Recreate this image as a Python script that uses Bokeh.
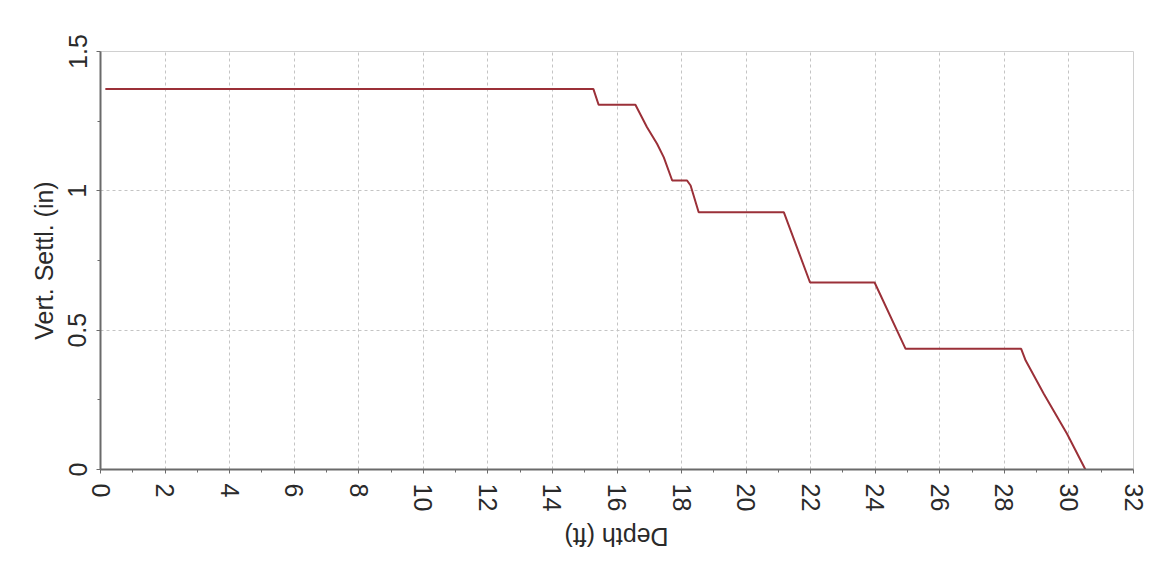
import math
from bokeh.plotting import figure
from bokeh.models import FixedTicker, Range1d, Label
from bokeh.embed import file_html
from bokeh.resources import INLINE

# Data
depth_ft = [0.15, 15.27, 15.43, 16.57, 16.93, 17.24, 17.45, 17.71, 18.17, 18.28,
            18.53, 21.17, 21.98, 23.98, 24.94, 28.52, 28.66, 29.22, 29.94, 30.51]
vert_settl_in = [1.365, 1.365, 1.309, 1.309, 1.228, 1.169, 1.120, 1.037, 1.037, 1.019,
                 0.923, 0.923, 0.671, 0.671, 0.433, 0.433, 0.391, 0.272, 0.128, 0.0]

x_ticks = list(range(0, 33, 2))
x_minor = list(range(1, 32, 2))
y_ticks = [0, 0.5, 1, 1.5]
y_minor = [0.25, 0.75, 1.25]
y_tick_labels = {0: "0", 0.5: "0.5", 1: "1", 1.5: "1.5"}

FONT = "Liberation Sans"

p = figure(width=1154, height=565, output_backend="svg", toolbar_location=None,
           x_range=Range1d(0, 32), y_range=Range1d(0, 1.5),
           min_border_left=100, min_border_top=51, min_border_right=21, min_border_bottom=96)

p.line(depth_ft, vert_settl_in, line_color="#9b3038", line_width=2)

p.background_fill_color = "white"
p.border_fill_color = "white"
p.outline_line_color = "#d0d0d0"
p.outline_line_width = 1

p.xaxis.ticker = FixedTicker(ticks=x_ticks, minor_ticks=x_minor)
p.yaxis.ticker = FixedTicker(ticks=y_ticks, minor_ticks=y_minor)
p.yaxis.major_label_overrides = y_tick_labels

for ax in (p.xaxis[0], p.yaxis[0]):
    ax.major_label_orientation = "vertical"
    ax.major_label_text_font = FONT
    ax.major_label_text_font_size = "25px"
    ax.major_label_text_color = "#2a2a2a"
    ax.axis_line_color = "#6a6a6a"
    ax.axis_line_width = 2
    ax.major_tick_line_color = "#6a6a6a"
    ax.minor_tick_line_color = "#6a6a6a"
    ax.major_tick_out = 4
    ax.major_tick_in = 0
    ax.minor_tick_out = 3
    ax.minor_tick_in = 0
    ax.major_label_standoff = 10

p.yaxis.axis_label = "Vert. Settl. (in)"
p.yaxis.axis_label_text_font = FONT
p.yaxis.axis_label_text_font_size = "25px"
p.yaxis.axis_label_text_font_style = "normal"
p.yaxis.axis_label_text_color = "#2a2a2a"
p.yaxis.axis_label_standoff = 8

p.xgrid.ticker = FixedTicker(ticks=x_ticks)
p.ygrid.ticker = FixedTicker(ticks=y_ticks)
for g in (p.xgrid[0], p.ygrid[0]):
    g.grid_line_color = "#c4c4c4"
    g.grid_line_dash = "3 3"
    g.grid_line_width = 1

# Upside-down x-axis title as in the reference
xlabel = Label(x=516, y=6, x_units="screen", y_units="screen", text="Depth (ft)",
               angle=math.pi, text_align="center", text_baseline="middle",
               text_font=FONT, text_font_size="25px", text_color="#2a2a2a")
p.add_layout(xlabel, "below")

open("out.html", "w").write(file_html(p, INLINE))
